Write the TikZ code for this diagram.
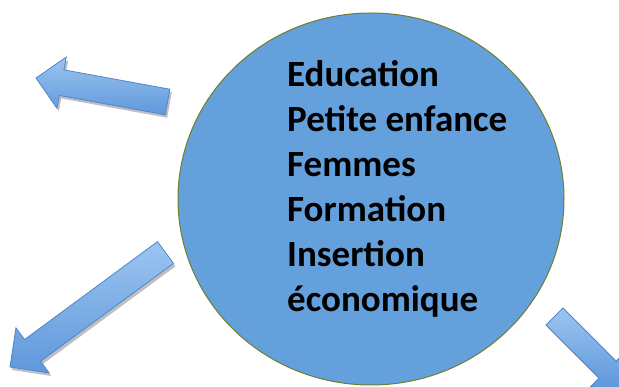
\documentclass[tikz,border=0pt]{standalone}
\usepackage{fontspec}
\setmainfont{Carlito}
\usetikzlibrary{calc,shadows,shapes.geometric}
\definecolor{circfill}{HTML}{64A0DC}
\definecolor{circline}{HTML}{6E7F2E}
\definecolor{arrtop}{HTML}{9CC4F0}
\definecolor{arrbot}{HTML}{5F98DC}
\definecolor{arrline}{HTML}{4F86CC}
\tikzset{
  blob/.style={ellipse, fill=circfill, draw=circline, line width=1pt},
  blockarrow/.style={draw=arrline, line width=0.8pt, top color=arrtop, bottom color=arrbot,
     drop shadow={shadow xshift=2pt, shadow yshift=-3pt, opacity=0.25, fill=black}},
  listtext/.style={font=\bfseries\fontsize{37}{45}\selectfont, align=left, inner sep=0pt, text=black}
}
% #1 tail, #2 tip, #3 half shaft, #4 half head, #5 head length
\newcommand\blkarrow[5]{%
  \coordinate (hb) at ($(#2)!#5!(#1)$);
  \path[blockarrow]
    ($(#1)!#3!90:(#2)$) -- ($(hb)!#3!-90:(#1)$) -- ($(hb)!#4!-90:(#1)$) -- (#2)
    -- ($(hb)!#4!90:(#1)$) -- ($(hb)!#3!90:(#1)$) -- ($(#1)!#3!-90:(#2)$) -- cycle;
}
\begin{document}
\begin{tikzpicture}[x=1pt,y=-1pt]
\useasboundingbox (0,0) rectangle (619,387);
\clip (0,0) rectangle (619,387);
\fill[white] (0,0) rectangle (619,387);
% arrows
\coordinate (a1t) at (167.5,102);
\coordinate (a1h) at (36,78);
\blkarrow{a1t}{a1h}{13pt}{26pt}{26pt}
\coordinate (a2t) at (165.5,252.5);
\coordinate (a2h) at (10,367);
\blkarrow{a2t}{a2h}{13.5pt}{28pt}{28pt}
\coordinate (a3t) at (554.5,316.5);
\coordinate (a3h) at (626,388);
\blkarrow{a3t}{a3h}{12pt}{25pt}{26pt}
% circle
\node[blob, minimum width=386pt, minimum height=372pt, inner sep=0pt] (c) at (371,199) {};
\node[listtext, anchor=north west] (txt) at (287,60)
  {Education\\Petite enfance\\Femmes\\Formation\\Insertion\\économique};
\end{tikzpicture}
\end{document}
